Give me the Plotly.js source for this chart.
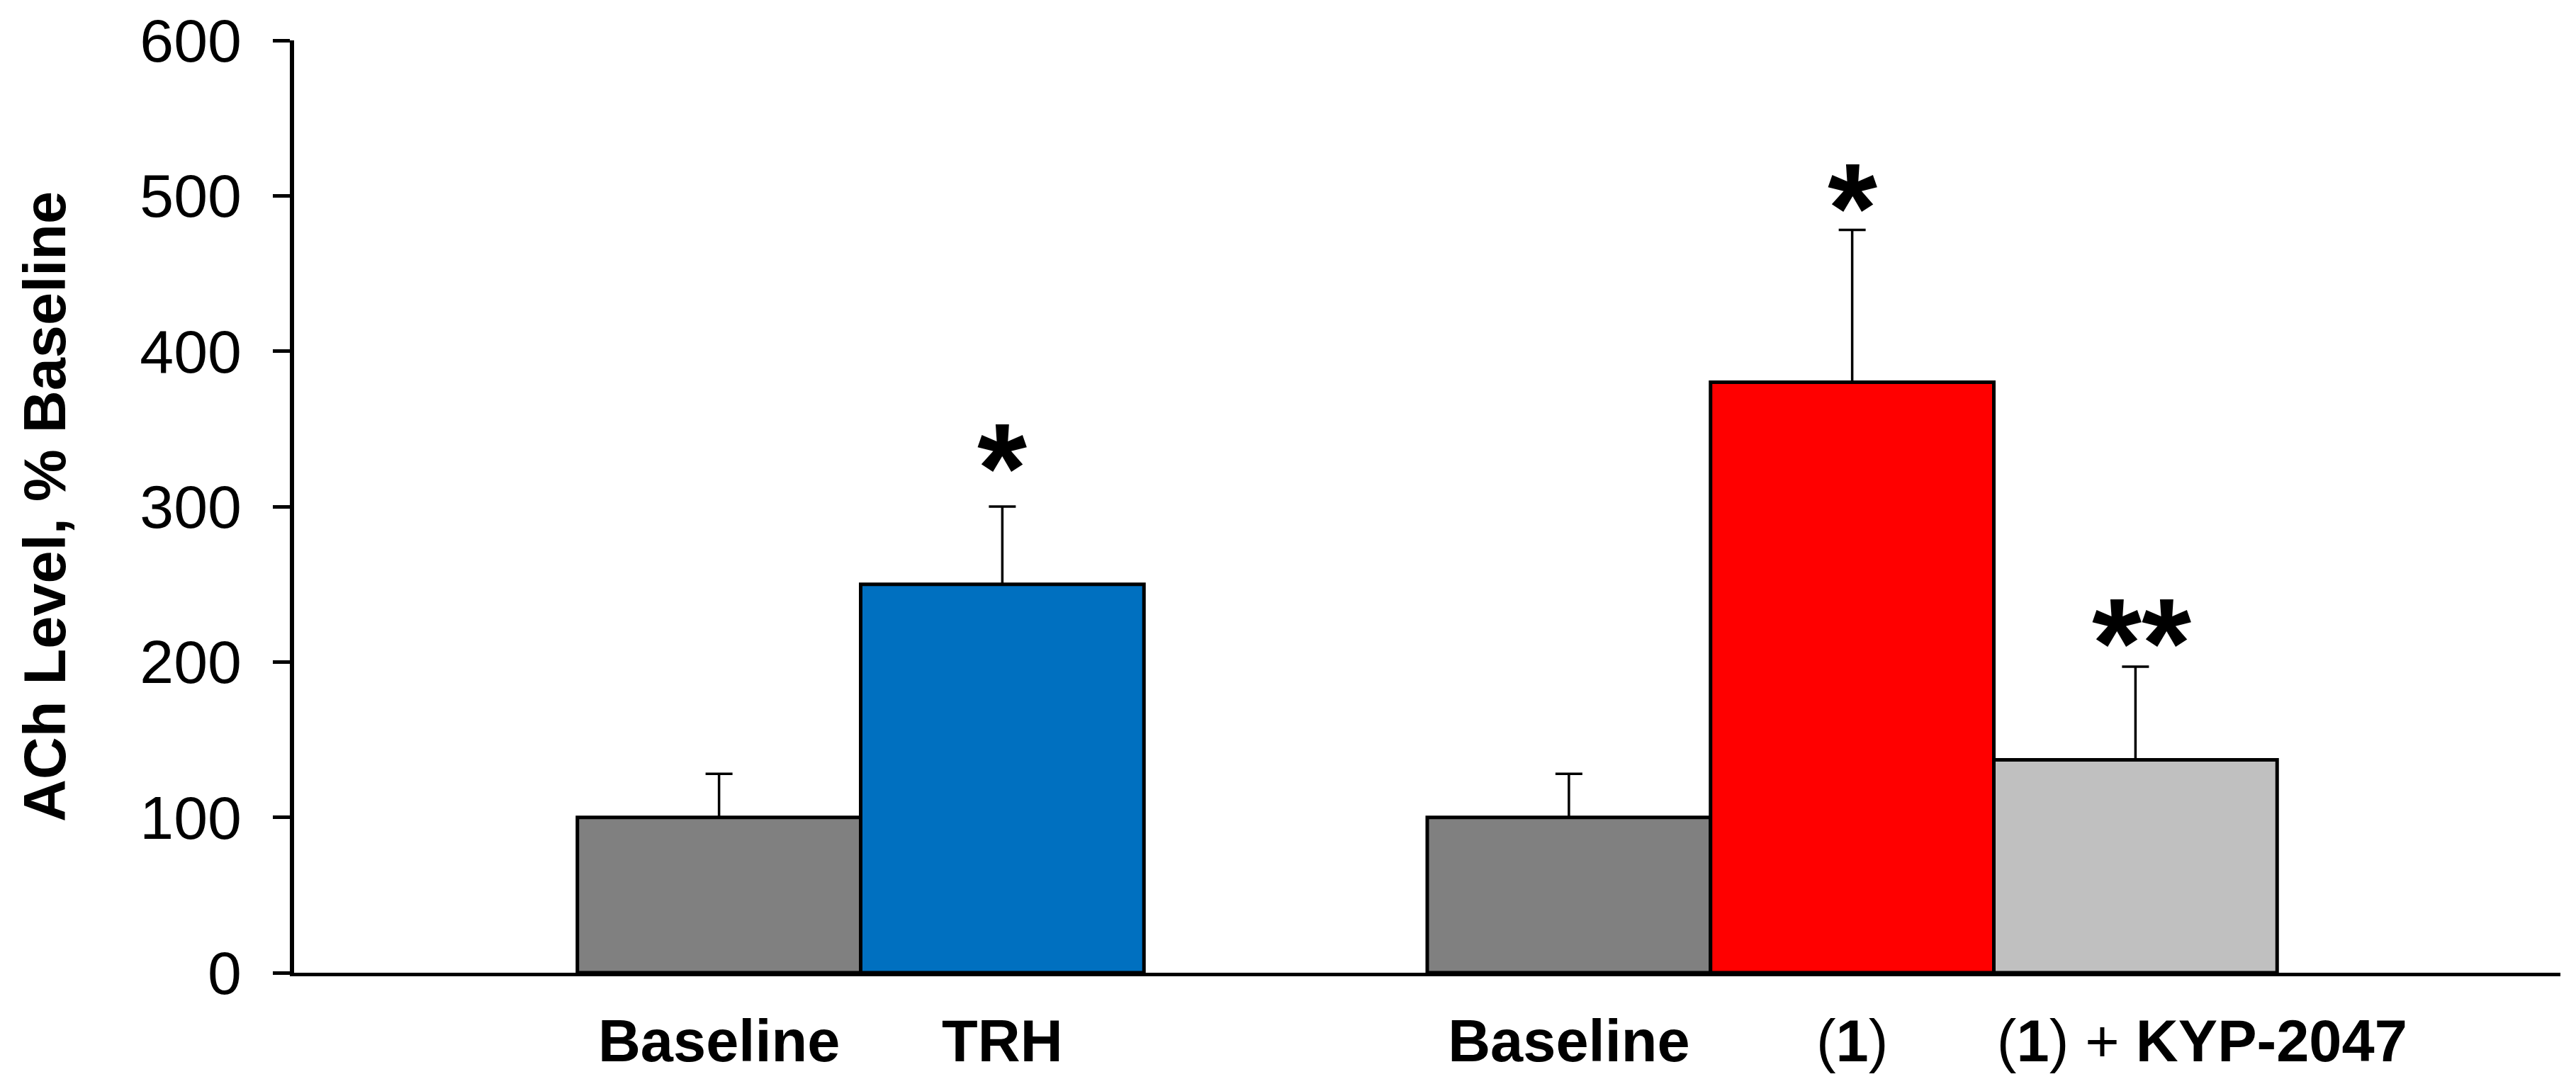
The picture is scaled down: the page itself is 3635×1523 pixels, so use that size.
<!DOCTYPE html>
<html>
<head>
<meta charset="utf-8">
<script src="https://cdn.plot.ly/plotly-3.0.1.min.js"></script>
<style>html,body{margin:0;padding:0;background:#fff;}#chart{width:3635px;height:1523px;}</style>
</head>
<body>
<div id="chart"></div>
<script>
// ---- data ----
const positions = [1, 2, 4, 5, 6];
const categories = ["Baseline", "TRH", "Baseline", "(1)", "(1) + KYP-2047"];
const tickLabels = ["<b>Baseline</b>", "<b>TRH</b>", "<b>Baseline</b>", "(<b>1</b>)",
  "(<b>1</b>)&nbsp;+&nbsp;<b>KYP-2047</b>"];
const values = [100, 250, 100, 380, 137];
const errors = [28, 50, 28, 98, 60];
const barColors = ["#808080", "#0070C0", "#808080", "#FF0000", "#C0C0C0"];
const sigMarks = ["", "*", "", "*", "**"];
const yTicks = [0, 100, 200, 300, 400, 500, 600];

const FONT = "Liberation Sans, Arial, Helvetica, sans-serif";

// style: vertical offsets (px) of the significance marks above the error caps
const sigShift = [0, 55, 0, 31, 33];
// style: the last category label sits right of its bar centre in the original
const labelNudge = (i) => (i === positions.length - 1 ? 0.235 : 0);

const trace = {
  type: "bar",
  x: positions,
  y: values,
  width: 1,
  text: categories,
  hoverinfo: "text+y",
  textposition: "none",
  marker: { color: barColors, line: { color: "#000000", width: 5 } },
  error_y: {
    type: "data",
    array: errors,
    arrayminus: errors.map(() => 0),
    symmetric: false,
    visible: true,
    color: "#000000",
    thickness: 3.5,
    width: 19
  },
  showlegend: false
};

const annotations = [];
positions.forEach((p, i) => {
  if (sigMarks[i]) {
    annotations.push({
      x: p, y: values[i] + errors[i], xref: "x", yref: "y",
      text: "<b>" + sigMarks[i] + "</b>",
      showarrow: false, yanchor: "middle", xanchor: "center",
      yshift: sigShift[i], xshift: sigMarks[i].length > 1 ? 9 : 0,
      font: { family: FONT, size: 180, color: "#000000" }
    });
  }
});

const layout = {
  width: 3635, height: 1523,
  paper_bgcolor: "#ffffff", plot_bgcolor: "#ffffff",
  margin: { l: 415, r: 22, t: 57, b: 150, pad: 0 },
  font: { family: FONT, color: "#000000" },
  xaxis: {
    range: [-0.5, 7.5],
    tickvals: positions.map((p, i) => p + labelNudge(i)),
    ticktext: tickLabels,
    ticks: "",
    tickangle: 0,
    showgrid: false, zeroline: false,
    showline: true, linecolor: "#000000", linewidth: 5,
    tickfont: { family: FONT, size: 83, color: "#000000" },
    ticklabelstandoff: 20,
    automargin: false
  },
  yaxis: {
    range: [0, 600],
    tickvals: yTicks,
    ticks: "outside", ticklen: 24, tickwidth: 5, tickcolor: "#000000",
    showgrid: false, zeroline: false,
    showline: true, linecolor: "#000000", linewidth: 6,
    tickfont: { family: FONT, size: 86, color: "#000000" },
    ticklabelstandoff: 27,
    title: { text: "<b>ACh Level, % Baseline</b>", font: { family: FONT, size: 83, color: "#000000" }, standoff: 79 },
    automargin: false
  },
  bargap: 0,
  annotations: annotations
};

Plotly.newPlot("chart", [trace], layout, { displayModeBar: false, staticPlot: true });
</script>
</body>
</html>
